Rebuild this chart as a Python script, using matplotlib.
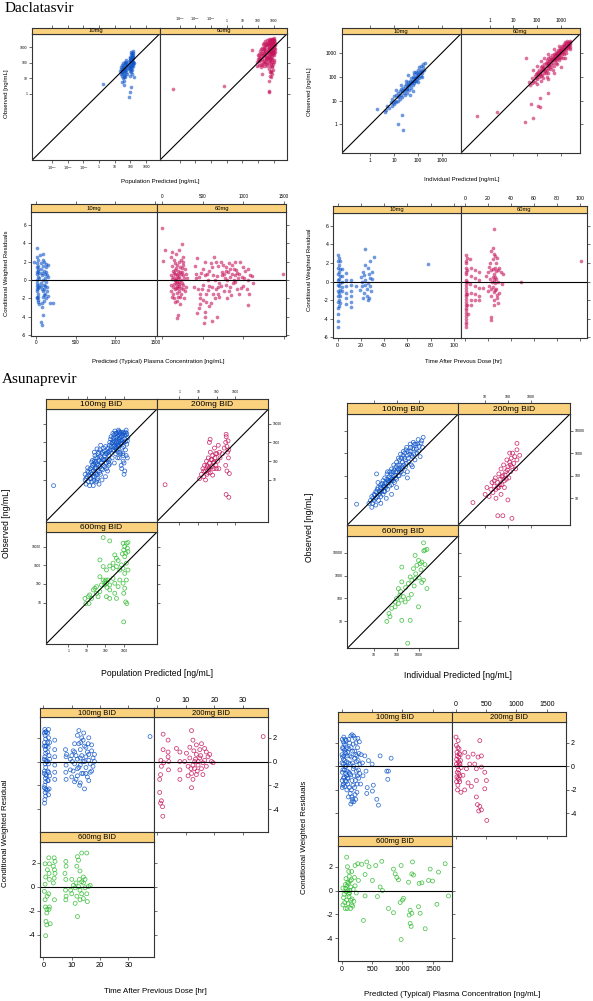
import numpy as np
import matplotlib.pyplot as plt
from matplotlib.ticker import NullLocator

plt.rcParams['font.family'] = ['Liberation Sans', 'DejaVu Sans']

W, H = 593, 1001
BLUE = '#0F55C8'
RED = '#C6145C'
GREEN = '#2FBB2F'
STRIP = '#FAD27E'

# ---------------- Daclatasvir data (x, y) ----------------
# observed vs population predicted [ng/mL]
dac_pop_10 = [(25, 40), (30, 25), (35, 60), (28, 15), (40, 30), (45, 80), (33, 10), (38, 18), (50, 45),
              (42, 120), (30, 6), (36, 4), (55, 25), (48, 12), (26, 50), (60, 70), (44, 35), (32, 90),
              (52, 150), (40, 7), (22, 30), (58, 20), (90, 100), (100, 200), (110, 60), (120, 300),
              (130, 150), (140, 80), (100, 40), (115, 500), (125, 35), (95, 250), (150, 120), (135, 400),
              (105, 90), (85, 60), (120, 20), (145, 200), (160, 100), (110, 130), (130, 50), (90, 30),
              (100, 15), (140, 600), (75, 45), (70, 110), (125, 250), (27, 22), (34, 45), (41, 55), (47, 28),
              (53, 65), (29, 35), (37, 12), (43, 95), (31, 70), (39, 38), (46, 17), (56, 40), (24, 18),
              (35, 28), (50, 100), (95, 150), (105, 350), (115, 170), (125, 130), (135, 90), (145, 300),
              (155, 60), (100, 70), (110, 40), (120, 450), (130, 220), (140, 110), (90, 140), (150, 250),
              (118, 75), (128, 180), (108, 25), (98, 55), (1.8, 4.3), (78, 0.6), (100, 1.4), (110, 2.7),
              (160, 12)]
dac_pop_60 = [(90, 60), (85, 110), (95, 180), (100, 300), (120, 75), (115, 130), (125, 220), (118, 380),
              (130, 600), (150, 85), (145, 150), (155, 260), (150, 450), (160, 800), (160, 50), (200, 105),
              (190, 180), (210, 320), (200, 560), (195, 950), (210, 1500), (195, 70), (250, 95), (260, 160),
              (245, 270), (255, 450), (250, 750), (260, 1200), (240, 2000), (240, 60), (300, 120), (310, 210),
              (290, 360), (305, 620), (300, 1000), (310, 1600), (290, 2600), (320, 80), (400, 100), (380, 185),
              (410, 310), (395, 520), (420, 820), (400, 1300), (390, 2000), (410, 3000), (390, 60), (500, 150),
              (520, 260), (480, 420), (510, 700), (500, 1100), (490, 1700), (520, 2500), (500, 3400), (530, 90),
              (500, 40), (600, 210), (620, 350), (580, 600), (610, 950), (600, 1500), (590, 2200), (610, 3100),
              (620, 125), (600, 60), (610, 25), (700, 300), (720, 520), (690, 850), (710, 1300), (700, 1900),
              (680, 2700), (720, 3500), (720, 150), (700, 80), (690, 30), (800, 260), (820, 410), (790, 700),
              (810, 1050), (800, 1650), (820, 2400), (780, 3200), (800, 105), (820, 50), (790, 20), (1000, 310),
              (980, 520), (1020, 920), (1000, 1400), (990, 2100), (1010, 3000), (1000, 3800), (1050, 160),
              (980, 85), (1200, 520), (1180, 820), (1220, 1300), (1200, 2000), (1150, 2900), (350, 250),
              (450, 600), (550, 900), (650, 450), (750, 1100), (850, 700), (900, 1900), (950, 500), (1100, 1100),
              (1100, 2400), (650, 2000), (550, 1300), (450, 1800), (350, 1300), (270, 500), (230, 800),
              (180, 350), (140, 200), (110, 160), (750, 600), (850, 1300), (950, 2600), (1100, 700), (900, 3300),
              (600, 2600), (800, 3000), (700, 450), (550, 250), (450, 200), (350, 150), (900, 350), (1100, 400),
              (650, 200), (850, 180), (1000, 120), (750, 60), (900, 35), (700, 25), (600, 15), (1150, 1700),
              (0.00037, 2.0), (0.68, 3.0), (40, 670), (550, 1.6), (500, 7), (480, 1.4), (650, 12), (180, 20)]

# observed vs individual predicted [ng/mL]
dac_ind_10 = [(4.5, 4.0), (5, 6), (6, 5), (7, 9), (8, 6), (8, 12), (9, 8), (10, 15), (10, 7), (11, 10),
              (12, 18), (12, 9), (14, 14), (15, 22), (15, 10), (17, 12), (18, 25), (20, 18), (20, 30), (22, 14),
              (24, 35), (25, 22), (28, 18), (28, 40), (30, 28), (32, 50), (35, 30), (35, 22), (38, 60), (40, 40),
              (42, 28), (45, 70), (48, 45), (50, 35), (52, 90), (55, 60), (60, 45), (60, 100), (65, 70), (70, 55),
              (70, 130), (75, 90), (80, 65), (80, 160), (90, 110), (95, 80), (100, 200), (100, 130), (110, 90),
              (110, 250), (120, 150), (130, 110), (130, 300), (140, 200), (150, 150), (160, 350), (170, 250),
              (180, 200), (190, 400), (60, 25), (45, 18), (100, 60), (150, 100), (30, 70), (20, 45), (12, 28),
              (40, 120), (65, 160), (16, 16), (26, 28), (33, 35), (44, 50), (58, 65), (68, 90), (85, 100),
              (105, 110), (125, 160), (145, 180), (22, 25), (38, 45), (52, 55), (75, 70), (90, 150),
              (1.8, 4.4), (22, 2.5), (15, 1.1), (24, 0.56), (4, 3.5)]
dac_ind_60 = [(45, 60), (50, 45), (60, 90), (60, 55), (70, 70), (80, 110), (80, 60), (90, 90), (100, 150),
              (100, 80), (110, 120), (120, 200), (120, 100), (130, 150), (140, 250), (140, 110), (150, 180),
              (160, 300), (160, 120), (180, 220), (190, 150), (200, 350), (200, 250), (220, 180), (230, 400),
              (250, 300), (250, 200), (270, 500), (280, 230), (300, 380), (300, 600), (330, 280), (350, 450),
              (350, 700), (380, 350), (400, 550), (400, 250), (420, 800), (450, 400), (480, 650), (500, 950),
              (500, 300), (550, 500), (600, 800), (600, 1100), (620, 400), (700, 600), (700, 1000), (750, 1400),
              (800, 800), (800, 500), (850, 1200), (900, 1700), (950, 1000), (1000, 700), (1000, 1400),
              (1100, 2000), (1100, 1100), (1200, 1500), (1300, 2400), (1300, 900), (1400, 1800), (1500, 2800),
              (1600, 1300), (1700, 2200), (1800, 3200), (2000, 2500), (2000, 1600), (2200, 2000), (2300, 3000),
              (2500, 2500), (180, 90), (300, 150), (450, 200), (700, 350), (1200, 600), (250, 100), (150, 70),
              (100, 50), (70, 200), (100, 300), (150, 450), (200, 600), (300, 900), (500, 1500), (800, 2000),
              (300, 80), (500, 150), (1000, 250), (1500, 600), (2500, 1500), (110, 160), (170, 240), (260, 380),
              (320, 450), (420, 550), (520, 700), (650, 900), (750, 1000), (900, 1200), (1050, 1500),
              (1250, 1900), (1450, 2100), (1700, 2600), (1900, 2800), (2100, 2300), (2400, 3200), (130, 130),
              (210, 200), (330, 350), (460, 500), (580, 600), (680, 750), (850, 900), (1150, 1300), (1350, 1400),
              (1650, 1700), (1900, 2000), (2200, 2600), (90, 130), (160, 200), (280, 320), (380, 500), (560, 800),
              (750, 800), (950, 1200), (1200, 1100), (1400, 1500), (1800, 1800), (240, 150), (360, 220),
              (600, 500), (900, 600), (1600, 1000), (2300, 1800), (500, 600), (750, 650), (1100, 900),
              (0.3, 2.2), (2.1, 3.2), (34, 620), (135, 12.6), (275, 21), (57, 7.5), (108, 6), (135, 5.4),
              (65, 1.8), (32, 1.3)]

# CWRES vs population predicted concentration [ng/mL]
dac_cw_pred_10 = [(15, 2.5), (20, 1.8), (25, 1.2), (18, 0.6), (22, 0), (30, -0.5), (16, -1), (28, -1.5),
                  (20, -2), (35, -2.6), (25, 0.3), (18, -0.3), (30, 1.5), (40, -0.8), (35, 0.8), (22, -1.2),
                  (28, 2.2), (15, -1.8), (38, 0.2), (32, -2.2), (24, 1.0), (19, -0.6), (60, 1.8), (70, 1.2),
                  (80, 0.5), (90, 0), (100, -0.5), (110, -1), (120, -1.5), (130, -2), (140, -0.8), (150, 0.3),
                  (160, 1.6), (75, -2.5), (85, -2.9), (95, 2.2), (105, 1.0), (115, 0.6), (125, -0.2), (135, 1.4),
                  (145, -1.2), (65, -0.3), (90, -1.8), (110, 2.0), (130, 0.9), (100, -2.3), (150, -1.7),
                  (80, -1.0), (120, 0.2), (20, 0.9), (26, -0.9), (17, 1.4), (33, -1.8), (23, -2.4), (70, -0.6),
                  (95, -1.2), (118, -0.7), (140, 0.5), (75, 0.8), (105, -1.6), (128, 1.7), (88, 1.5),
                  (21, 3.5), (62, -4.55), (75, -4.9), (96, -3.8), (179, -2.5), (221, -2.5), (-17, 1.95),
                  (87, 2.85), (50, 2.7)]
dac_cw_pred_60 = [(100, 2.5), (120, 1.5), (140, 0.8), (160, 0), (180, -0.6), (200, -1.2), (220, -1.8),
                  (240, -0.3), (260, 0.5), (280, 1.2), (300, 0.2), (110, -0.5), (130, -1.5), (150, 1.8),
                  (170, 2.8), (190, 1.0), (210, 0.3), (230, 2.2), (250, -1.0), (270, -2.0), (120, 0.1),
                  (160, -2.4), (200, 3.3), (230, -0.9), (140, -0.4), (180, 0.5), (210, -0.2), (260, 1.6),
                  (100, -1.2), (290, -0.8), (170, 1.3), (190, -1.8), (115, 3.0), (240, 3.9), (105, 0.5),
                  (125, -0.8), (135, 1.0), (145, -2.0), (155, 0.6), (165, -0.3), (175, -1.4), (185, 1.6),
                  (195, 0.2), (205, -0.7), (215, 1.4), (225, 0.0), (235, -1.5), (245, 0.9), (255, -0.5),
                  (265, 0.2), (275, -1.2), (285, 0.7), (130, 0.3), (150, -1.0), (170, 0.2), (190, -0.9),
                  (210, 1.9), (230, 0.6), (250, 2.0), (160, 1.1), (180, -0.2), (200, -0.4), (220, 0.9),
                  (140, 2.2), (120, -1.8), (180, -2.3), (215, -2.6), (260, 2.5), (150, 0.0), (190, 0.6),
                  (240, 1.3), (170, -0.9), (400, 1.5), (420, 0.2), (440, -1.0), (460, -2.0), (480, 0.8),
                  (500, -0.5), (520, 2.0), (540, -1.5), (560, 0.0), (580, 1.0), (600, -2.5), (620, 0.5),
                  (640, 2.5), (660, -1.0), (680, 1.5), (700, -0.3), (720, 2.0), (740, 0.5), (760, -1.2),
                  (780, 1.0), (800, 0.0), (820, 1.8), (840, -0.8), (860, 0.6), (880, 1.2), (900, -0.2),
                  (920, 0.8), (940, -1.5), (960, 2.0), (980, 0.3), (1000, -0.6), (1020, 1.0), (1050, 0.0),
                  (1080, 0.5), (1120, -0.3), (450, -3.0), (520, -3.5), (580, -2.8), (470, -1.5), (550, 0.7),
                  (610, -0.8), (650, 0.0), (700, -1.8), (750, 1.6), (850, -1.6), (900, 1.9), (430, 2.4),
                  (500, 1.2), (390, -0.8), (650, -2.0), (800, -2.0), (410, 0.6), (450, 0.3), (490, -1.0),
                  (530, 0.5), (570, -0.6), (610, 1.4), (630, -1.5), (670, 0.4), (690, -0.8), (730, 0.9),
                  (770, 0.2), (790, -0.5), (810, 0.9), (830, 0.3), (870, -0.3), (890, 0.5), (910, 1.1),
                  (930, 0.2), (950, 0.7), (970, -0.9), (990, 1.4), (1010, 0.2), (1040, -1.0), (1060, 1.2),
                  (1100, 0.4), (760, 0.7), (840, 1.2), (880, 0.0), (720, -0.6), (680, -1.5), (560, -1.1),
                  (500, -2.2), (470, -2.6), (540, -2.4), (600, 1.8), (660, 1.9), (860, 1.6), (920, -1.0),
                  (780, 1.4), (820, -1.2), (0, 5.67), (29, 3.3), (8, 2.1), (1487, 0.65), (1050, -2.75),
                  (1071, -1.5), (508, -4.7), (612, -4.5), (675, -4), (530, -4), (175, -4.1), (196, -3.8),
                  (425, -3.6)]

# CWRES vs time after previous dose [hr]
dac_cw_tad_10 = [(0.5, 2.8), (0.5, 2.2), (0.5, 1.5), (0.5, 0.8), (0.5, 0.2), (0.5, -0.4), (0.5, -1.0),
                 (0.5, -1.6), (0.5, -2.2), (0.5, -2.8), (0.5, -3.5), (0.5, -4.2), (0.5, -4.9), (1.2, 2.5),
                 (1.2, 1.8), (1.2, 1.0), (1.2, 0.3), (1.2, -0.5), (1.2, -1.2), (1.2, -2.0), (1.2, -2.6),
                 (2.2, 2.2), (2.2, 1.3), (2.2, 0.6), (2.2, -0.2), (2.2, -0.9), (2.2, -1.6), (2.2, -2.3),
                 (4, 1.3), (4, 0.6), (4, 0), (4, -0.6), (4, -1.0), (7.5, 0.9), (7.5, 0.2), (7.5, -0.5),
                 (7.5, -1.2), (7.5, -1.8), (7.5, -2.4), (11.5, 0.2), (11.5, -0.4), (11.5, -1.0), (11.5, -1.6),
                 (11.5, -2.2), (11.5, -2.7), (20, 0.5), (21, -0.5), (22, 1.0), (23, -1.2), (24, 0.2),
                 (25, -0.8), (26, 1.5), (27, -1.8), (28, 0.4), (22, -1.8), (24, 1.8), (26, -0.2), (27, 0.8),
                 (29, -1.0), (30, 0.3), (21, 0.0), (23, 0.7), (25, -1.5), (28, -0.5), (24, -0.4), (26, -2.0),
                 (30, 1.0), (19, -0.9), (24, 3.5), (31, 2.66), (77.6, 1.9), (16, -0.5), (27.5, 2.2)]
dac_cw_tad_60 = [(0.5, 2.8), (0.8, 2.2), (1.0, 1.5), (0.6, 0.8), (1.2, 0.2), (0.7, -0.4), (1.0, -1.0),
                 (0.6, -1.6), (1.3, -2.2), (0.8, -2.8), (0.5, -3.4), (1.0, -4.0), (0.7, -4.6), (1.1, -4.9),
                 (0.6, 2.0), (0.9, 1.0), (0.5, 0.0), (1.1, -0.7), (0.6, -1.3), (0.9, -1.9), (0.5, -2.5),
                 (1.2, -3.1), (0.8, -3.7), (0.5, -4.3), (2.0, 2.5), (2.2, 1.2), (1.8, 0.0), (2.1, -1.3),
                 (1.9, -2.5), (2.3, -3.5), (4.5, 2.4), (5, 1.5), (5.2, 0.6), (4.8, -0.3), (5.1, -1.2),
                 (4.9, -2.0), (5.3, -2.5), (8.5, 1.2), (8.8, 0.4), (8.3, -0.5), (8.7, -1.3), (8.5, -2.0),
                 (12, 1.0), (12.3, 0.2), (11.8, -0.7), (12.2, -1.5), (12, -2.0), (20, 1.0), (21, -0.5),
                 (22, 2.0), (23, -1.5), (24, 0.5), (25, 3.0), (25, -2.0), (26, 1.5), (27, -0.8), (28, 2.5),
                 (29, 0.0), (30, -1.2), (31, 1.0), (22, 0.3), (23, 1.2), (24, -0.6), (25, 0.8), (26, -0.2),
                 (27, 2.0), (28, -1.8), (24, 3.6), (26, 2.7), (20, -1.0), (30, 1.5), (21, 1.6), (25, -2.5),
                 (29, -2.3), (23, 3.3), (27, 0.3), (32, -0.3), (18, 0.6), (22.5, -0.8), (23.5, 0.0),
                 (24.5, 1.4), (25.5, -1.1), (26.5, 0.5), (27.5, -1.4), (28.5, 1.2), (25, 0.2), (26, -0.9),
                 (24, 2.4), (27, 1.1), (25.3, 5.7), (22.4, -3.8), (23, -4.1), (48.9, 0), (100.6, 2.2),
                 (16, -0.7), (33, 0.8)]

# ---------------- Asunaprevir data (x, y) ----------------
asv_pop_100 = [(8, 10), (9, 6), (8, 20), (10, 15), (12, 8), (12, 25), (11, 45), (15, 12), (15, 40), (14, 5),
               (18, 20), (18, 8), (18, 90), (20, 60), (22, 30), (22, 5), (25, 15), (25, 100), (25, 300),
               (28, 45), (30, 20), (30, 150), (32, 8), (35, 70), (35, 10), (35, 450), (40, 30), (40, 250),
               (45, 110), (45, 6), (50, 50), (50, 400), (55, 20), (55, 700), (60, 150), (60, 80), (65, 10),
               (70, 300), (70, 35), (80, 500), (80, 120), (90, 50), (90, 200), (100, 15), (100, 600), (110, 80),
               (120, 250), (130, 30), (140, 500), (150, 60), (160, 120), (170, 350), (9, 12), (11, 30), (13, 18),
               (16, 25), (17, 12), (19, 45), (21, 15), (23, 70), (24, 9), (26, 40), (27, 200), (29, 25),
               (31, 90), (33, 45), (36, 20), (38, 150), (42, 60), (44, 300), (48, 25), (52, 180), (58, 90),
               (62, 40), (66, 250), (72, 120), (76, 60), (85, 350), (95, 120), (105, 250), (115, 40),
               (125, 130), (135, 300), (145, 90), (155, 200), (165, 70), (20, 110), (28, 80), (38, 12),
               (150, 300), (170, 1000), (200, 600), (200, 2000), (230, 150), (250, 400), (250, 3000),
               (280, 1200), (300, 80), (300, 700), (320, 4000), (350, 250), (350, 1800), (380, 500), (400, 3000),
               (400, 1000), (450, 150), (450, 2200), (500, 600), (500, 4500), (550, 1500), (600, 300),
               (600, 3000), (650, 900), (700, 2000), (700, 60), (800, 500), (800, 1500), (900, 3500), (900, 200),
               (1000, 1000), (1100, 30), (1200, 400), (1300, 2500), (1400, 800), (1500, 150), (1600, 1800),
               (1000, 20), (750, 40), (550, 3800), (220, 900), (260, 1700), (330, 500), (430, 700), (480, 300),
               (650, 1200), (750, 2800), (1100, 1500), (1300, 4500), (1200, 3500), (160, 700), (180, 400),
               (190, 1500), (240, 1000), (270, 600), (290, 2500), (310, 1000), (340, 3000), (360, 600),
               (370, 1300), (420, 1800), (460, 800), (480, 3500), (520, 1100), (530, 2500), (580, 700),
               (620, 1800), (680, 3500), (720, 1300), (780, 900), (850, 2400), (950, 600), (1000, 3000),
               (1100, 2500), (1200, 1100), (1400, 3000), (1500, 1200), (300, 350), (420, 400), (650, 250),
               (850, 250), (1000, 80), (1300, 200), (900, 100), (550, 150), (0.16, 5)]
asv_pop_200 = [(15, 20), (18, 40), (20, 15), (22, 60), (25, 30), (28, 100), (30, 20), (32, 50), (35, 150),
               (38, 35), (40, 80), (45, 25), (45, 300), (50, 120), (55, 50), (60, 200), (60, 18), (65, 80),
               (70, 40), (75, 500), (80, 150), (90, 60), (100, 250), (110, 100), (120, 700), (130, 40),
               (140, 300), (150, 150), (300, 1000), (320, 2000), (350, 600), (380, 300), (400, 1200), (420, 150),
               (440, 400), (300, 60), (350, 30), (25, 10), (12, 12), (40, 1000), (44, 1450), (316, 2700),
               (200, 250), (250, 500), (30, 60), (40, 45), (55, 120), (70, 90), (85, 250), (95, 40), (20, 30),
               (35, 25), (0.17, 5.6), (316, 1.7), (440, 1.2), (470, 22)]
asv_pop_600 = [(75, 30000), (170, 20000), (890, 15100), (1090, 10000), (1330, 15100), (1630, 16400),
               (960, 6600), (1230, 4400), (1510, 8150), (810, 4060), (1630, 5400), (1090, 2900), (316, 3580),
               (390, 2370), (480, 1790), (257, 1290), (50, 1930), (75, 850), (113, 560), (170, 920), (257, 690),
               (390, 850), (590, 560), (720, 1050), (890, 690), (1330, 1290), (1630, 560), (1090, 370),
               (50, 245), (75, 163), (92, 133), (113, 109), (61, 89), (138, 163), (170, 89), (257, 200),
               (316, 109), (480, 72), (590, 163), (890, 109), (1090, 59), (1330, 163), (960, 32), (1230, 11),
               (1420, 9.1), (27, 59), (33, 72), (22, 48), (40, 21), (33, 32), (14, 26), (18, 17), (12, 21),
               (50, 39), (7.8, 17), (8.8, 9.1), (13, 9.1), (113, 21), (170, 17), (316, 32), (390, 17),
               (170, 48), (960, 0.95), (92, 89), (105, 163), (120, 66)]

asv_ind_100 = [(7, 8), (8, 12), (9, 6), (10, 15), (10, 8), (12, 20), (12, 10), (14, 12), (15, 30), (16, 8),
               (18, 20), (20, 40), (20, 12), (22, 25), (25, 60), (25, 15), (28, 30), (30, 80), (30, 20),
               (35, 45), (38, 120), (40, 25), (45, 60), (50, 150), (50, 35), (55, 80), (60, 200), (60, 40),
               (70, 100), (75, 300), (80, 50), (90, 150), (100, 400), (100, 70), (110, 200), (120, 600),
               (130, 100), (140, 300), (150, 900), (160, 150), (180, 400), (200, 1200), (200, 120), (220, 600),
               (250, 250), (280, 1800), (300, 800), (300, 150), (350, 400), (400, 2500), (400, 1200), (450, 300),
               (500, 700), (550, 3000), (600, 1500), (650, 500), (700, 2500), (800, 1000), (900, 4000),
               (1000, 2000), (1100, 700), (1300, 3500), (1500, 5000), (1400, 1800), (15, 50), (40, 150),
               (100, 30), (300, 80), (500, 250), (13, 120), (6, 6), (8, 4), (12, 5), (20, 6), (35, 10), (60, 15),
               (9, 10), (11, 14), (13, 18), (14, 25), (17, 15), (19, 30), (21, 20), (23, 45), (26, 35), (27, 20),
               (32, 50), (33, 30), (37, 70), (42, 50), (47, 90), (52, 60), (58, 120), (62, 70), (68, 150),
               (72, 60), (78, 180), (85, 100), (95, 250), (105, 150), (115, 300), (125, 180), (135, 500),
               (145, 200), (165, 600), (175, 250), (190, 800), (210, 300), (230, 1000), (240, 500), (260, 1400),
               (270, 350), (320, 1200), (330, 600), (380, 900), (420, 1800), (470, 800), (520, 1600), (580, 900),
               (620, 2500), (750, 1500), (850, 2500), (950, 1200), (1200, 2800), (120, 100), (180, 200),
               (60, 60), (90, 80), (30, 35), (40, 60), (1.7, 5.5)]
asv_ind_200 = [(10, 15), (12, 30), (15, 12), (18, 25), (20, 50), (22, 18), (25, 35), (28, 80), (30, 25),
               (35, 50), (40, 120), (40, 30), (45, 70), (50, 200), (55, 40), (60, 100), (65, 300), (70, 60),
               (80, 150), (90, 500), (100, 250), (110, 80), (120, 400), (130, 150), (140, 600), (150, 250),
               (160, 1000), (180, 350), (200, 700), (220, 200), (250, 500), (70, 30), (100, 8.5), (250, 2700),
               (30, 10), (50, 15), (120, 1000), (250, 1400), (330, 800), (25, 60), (35, 30), (45, 40), (55, 90),
               (75, 110), (85, 70), (95, 180), (130, 300), (2.9, 6.5), (36, 1.7), (60, 1.7), (150, 1.3)]
asv_ind_600 = [(1550, 27000), (1800, 13000), (2200, 14000), (1600, 12000), (660, 7600), (930, 4600),
               (1100, 3300), (1300, 3900), (790, 2800), (560, 2000), (400, 870), (330, 450), (170, 2350),
               (470, 630), (660, 740), (1550, 630), (2200, 270), (170, 530), (120, 270), (140, 140), (100, 100),
               (200, 120), (86, 70), (120, 60), (160, 85), (240, 70), (330, 100), (930, 43), (61, 37), (46, 22),
               (37, 9.9), (51, 16), (86, 43), (170, 11), (400, 11), (310, 1.1), (1000, 800), (1200, 1800),
               (250, 300), (150, 200), (700, 1200), (1300, 500), (1800, 3000), (600, 350), (450, 150)]

asv_cw_tad_100 = [(0.5, 2.7), (0.6, 2.2), (0.4, 1.6), (0.7, 1.0), (0.5, 0.4), (0.6, -0.2), (0.4, -0.8),
                  (0.7, -1.4), (0.5, -2.0), (0.6, -2.6), (0.5, -3.2), (0.4, -3.5), (1.0, 2.5), (1.0, 1.3),
                  (1.0, 0.0), (1.0, -1.2), (1.0, -2.4), (1.8, 2.7), (1.8, 2.0), (1.7, 1.2), (2.0, 0.5),
                  (1.8, -0.2), (1.9, -0.9), (1.7, -1.6), (2.0, -2.3), (1.8, -2.8), (4, 1.8), (4, 1.0), (4, 0.4),
                  (4, -0.3), (4, -0.9), (4, -1.5), (7.8, 1.0), (8, 0.4), (8, -0.3), (7.9, -0.9), (8, -1.5),
                  (0.8, 2.5), (0.8, 1.9), (0.8, 1.3), (0.8, 0.7), (0.8, 0.1), (0.8, -0.5), (0.8, -1.1),
                  (0.8, -1.7), (0.8, -2.3), (0.8, -2.9), (0.3, 2.4), (0.3, 1.3), (0.3, 0.2), (0.3, -1.0),
                  (0.3, -2.2), (1.5, 2.4), (1.5, 1.6), (1.5, 0.8), (1.5, 0.0), (1.5, -0.8), (1.5, -1.6),
                  (1.5, -2.4), (2.2, 1.6), (2.2, 0.2), (2.2, -1.2), (10, 0.5), (10.5, -0.8), (11, 1.5),
                  (11.5, -1.5), (12, 0.2), (12, 2.2), (12.5, -0.5), (13, 1.0), (13, -1.8), (13.5, 0.5),
                  (14, -1.0), (14, 1.8), (14.5, 0), (15, -0.5), (15, 1.2), (15.5, -1.3), (16, 0.6), (16.5, -0.2),
                  (17, 1.4), (17, -0.8), (17.5, 0.3), (18, 0.0), (11, -0.2), (12, -1.2), (13.5, 2.0),
                  (14.5, -2.3), (16, -1.6), (12.5, 2.6), (10, -1.3), (11, 0.8), (13, -0.3), (15, 0.4), (9.5, 0.2),
                  (16, 2.0), (10.5, 0.9), (11.5, 0.5), (12.5, 1.5), (13.5, -1.0), (14.5, 1.3), (15.5, 0.8),
                  (16.5, -0.9), (17.5, -0.4), (12, -0.6), (13, 0.3), (14, 0.0), (15, -1.0), (16, 0.1),
                  (11, -1.7), (12.8, -2.0), (13.2, 1.6), (14.2, 2.4), (15.8, 1.5), (17, 0.9), (18, 0.6),
                  (10.2, 0.0), (9.5, -0.7), (8.2, 0.6), (37.6, 2.1)]
asv_cw_tad_200 = [(2.0, 2.3), (1.2, 0.1), (1.4, -0.4), (1.1, -1.1), (0.8, -1.5), (0.8, -2.6), (1.4, -3.3),
                  (1.1, -3.5), (1.8, -3.8), (1.9, -4.6), (2, 1.0), (2.2, -0.1), (3.75, 1.8), (3.75, 0.8),
                  (4, 0), (3.9, -0.7), (3.75, 0.4), (6.7, 1.1), (7.9, 0.8), (7.9, 0), (7.9, -0.7), (7.9, -1.5),
                  (12, 2.6), (12.5, 1.8), (13.7, 1.4), (14.9, 1.0), (10.2, 0.7), (11.4, 0.3), (13.1, 0),
                  (14.3, -0.3), (15.5, -0.6), (16.6, 0.1), (17.8, 0.4), (19, 0), (12, -1.0), (12.5, -1.5),
                  (12, -2.2), (13.7, -1.1), (16, -1.1), (17.2, 0.8), (15.5, 1.5), (10.8, -0.4), (9.6, 0),
                  (14.9, 0.3), (13.7, 0.6), (13.1, -0.6), (11.4, 1.2), (16, -0.1), (17.2, -0.4), (18.4, 0.6),
                  (10.8, -1.2), (16.6, 1.1), (12.5, -0.3), (14.3, 0), (19.6, -0.1), (12.8, 0.9), (14, -0.8),
                  (15.2, 0.5), (11.8, -0.6), (13.4, 0.2), (37.2, 2.1)]
asv_cw_tad_600 = [(0.6, 1.9), (0.8, 0.8), (0.6, 0.2), (0.35, -0.4), (0.6, -1.1), (0.7, -1.7), (1.2, -2.2),
                  (0.9, -2.9), (1.2, -3.2), (0.8, -4.1), (1.2, -1.9), (1.4, 1.4), (1.3, -0.8), (1.9, 2.4),
                  (2.1, 1.9), (2.0, 1.1), (2.1, 0.6), (1.9, -0.6), (2.1, -1.7), (2.0, -1.9), (2.4, -3.1),
                  (3.8, 2.4), (4.1, 2.1), (3.5, 1.7), (3.9, 1.4), (4.1, 1.1), (3.8, 0.7), (3.5, 0.3),
                  (3.9, -1.1), (7.9, 2.1), (8, 1.7), (7.6, 1.1), (7.9, 0.6), (7.8, -0.3), (8, -0.8),
                  (7.9, -1.1), (12, 2.5), (12.4, 2.2), (11.8, 1.7), (12.9, 1.3), (14.1, 0.8), (15.3, 2.8),
                  (13.5, 2.8), (10, 0.6), (10.6, 0.1), (11.2, -0.1), (12.4, 0), (12.9, -0.3), (13.5, -0.6),
                  (14.1, 0.3), (14.7, -0.1), (15.3, -0.6), (15.9, 0), (16.5, 0.1), (11.8, -0.8), (12.9, -1.1),
                  (14.1, -1.0), (15.5, -1.25), (11.2, -1.4), (12, -2.5), (10, -0.6), (12.7, 0.6), (13.5, 0.4),
                  (11.5, 0.3), (9.6, -0.3), (14.7, 0.6)]

asv_cw_pred_100 = [(10, 2.3), (20, 1.5), (15, 0.8), (25, 0.2), (10, -0.5), (30, -1.0), (20, -1.6), (40, 1.9),
                   (50, 0.5), (45, -0.3), (60, -1.2), (35, 2.5), (55, 1.2), (70, 0.0), (80, -0.8), (65, 1.8),
                   (90, 0.9), (100, -1.5), (85, -2.0), (75, 2.2), (110, 0.3), (120, 1.5), (130, -0.6),
                   (140, -2.3), (150, 2.6), (160, 0.8), (170, -1.2), (180, -2.8), (190, 1.9), (200, 0.0),
                   (210, -1.8), (220, 2.4), (230, 1.0), (240, -0.4), (250, -2.2), (260, 1.6), (270, 0.5),
                   (280, -1.0), (290, 2.1), (300, 0.2), (310, -1.5), (150, -3.2), (170, 2.7), (130, 2.0),
                   (200, -3.0), (160, -2.0), (180, 1.3), (120, -0.5), (110, -2.6), (230, -2.8), (260, -0.8),
                   (320, 1.0), (340, 0.3), (350, -0.8), (380, 0.9), (400, -0.4), (420, -1.8), (440, 0.5),
                   (500, 0.2), (520, -1.6), (5, 1.0), (8, -1.2), (30, 0.6), (5, 0.3), (10, -1.8), (15, 1.6),
                   (20, -0.3), (25, 2.1), (30, -1.5), (35, 0.9), (40, -0.9), (45, 1.4), (50, -1.7), (55, 0.0),
                   (60, 2.3), (65, -0.6), (70, 1.1), (75, -1.3), (80, 0.4), (85, 1.6), (90, -0.4), (95, -1.0),
                   (100, 1.2), (105, -1.0), (115, 2.3), (125, -1.8), (135, 0.9), (145, -0.7), (155, 1.6),
                   (165, -2.6), (175, 0.3), (185, -1.6), (195, 2.6), (205, -0.8), (215, 1.3), (225, -1.2),
                   (235, 2.0), (245, 0.4), (255, -1.5), (265, 2.4), (275, -0.3), (285, 1.1), (295, -0.6),
                   (140, 0.2), (190, -0.2), (210, 0.7), (250, 0.9), (170, -3.0), (220, -2.4), (632, 0.9),
                   (742, -0.4), (769, -0.4), (758, -1.1), (813, 0.7), (577, -2.8), (604, -3.3), (505, -2.1),
                   (412, -2.3)]
asv_cw_pred_200 = [(5, 2.5), (10, 1.8), (20, 1.2), (15, 0.6), (30, 0.0), (25, -0.5), (40, -1.0), (35, -1.6),
                   (50, 0.8), (60, 0.3), (45, -0.3), (70, -0.8), (55, 1.5), (80, 0.5), (65, -1.3), (90, -0.1),
                   (30, -2.0), (40, 2.2), (75, 1.0), (85, -2.2), (20, -0.9), (50, -0.6), (60, 1.1), (10, 0.2),
                   (35, 1.6), (25, 0.9), (45, 0.4), (15, -1.3), (55, -1.1), (70, 0.2), (148, 1.2), (203, 0.8),
                   (286, 1.05), (368, 0.8), (423, 0.9), (396, 2.2), (313, 0.2), (340, -0.2), (423, -0.05),
                   (478, -0.5), (505, -1.2), (478, -1.9), (340, -1.2), (258, -1.7), (203, -1.4), (340, -2.6),
                   (357, -3.25), (396, -3.4), (423, -3.7), (379, -3.8), (511, -4.6), (148, -2.0), (120, -0.75),
                   (176, -0.2), (231, 0.2)]
asv_cw_pred_600 = [(82, 2.8), (165, 1.6), (220, 2.1), (264, 2.25), (330, 2.2), (412, 2.4), (450, 2.0),
                   (560, 2.1), (660, 2.45), (852, 1.8), (880, 1.4), (978, 2.1), (1165, 2.4), (1456, 1.8),
                   (1593, 1.55), (1703, 2.25), (209, 1.1), (275, 0.85), (385, 1.35), (505, 0.85), (632, 0.3),
                   (670, 0), (907, 1.1), (934, 0.9), (1100, 0.7), (1154, 1.4), (1181, 1.3), (1275, 0.6),
                   (1319, 0.65), (1429, 0.85), (1495, 0.8), (1016, -0.65), (1000, -0.8), (588, -0.5),
                   (769, -1.5), (852, -1.85), (962, -1.0), (1126, -1.65), (1154, -1.9), (1110, -2.05),
                   (1126, -2.75), (1143, -3.0), (1291, -1.9), (1264, -1.35), (1374, -3.2), (978, -4.1),
                   (1566, -1.15), (1758, -0.45), (385, -0.45), (357, -2.5), (20, 0.2), (40, -0.3), (60, 0.5),
                   (80, -0.8), (100, 0.0), (120, -0.5), (140, 0.8), (160, -1.2), (50, -1.0), (70, 1.0),
                   (90, -1.5), (110, 0.6), (130, -0.2), (150, 0.3), (170, -0.7), (190, 0.1), (30, -0.6),
                   (65, 0.2), (85, 0.4), (105, -1.1), (125, 1.2), (145, -1.5), (200, -0.9), (220, 0.4),
                   (240, -0.2), (95, 2.0), (115, 1.6), (60, -1.5), (180, -1.3), (110, -0.3), (75, -0.1),
                   (135, 0.0), (160, 0.9), (100, 0.7), (150, -0.8), (20, -1.2)]

# ---------------- axes ticks ----------------
dec_small = [1e-3, 1e-2, 1e-1, 1, 10, 100, 1000]
dec_small_lab = ['$10^{-3}$', '$10^{-2}$', '$10^{-1}$', '1', '10', '100', '1000']
cw_ticks = [-6, -4, -2, 0, 2, 4, 6]
cw_labs = ['-6', '-4', '-2', '0', '2', '4', '6']


fig = plt.figure(figsize=(W / 100, H / 100), dpi=100)


def px_box(x0, y0, x1, y1):
    return [x0 / W, 1 - y1 / H, (x1 - x0) / W, (y1 - y0) / H]


def style_spines(ax):
    for sp in ax.spines.values():
        sp.set_linewidth(0.8)
        sp.set_color('#333333')


TICK = dict(direction='out', length=2.2, width=0.5, pad=1.2, color='#333333')


def panel(rect, xlim, ylim, xt, xl, yt, yl, sides, labs, fs, strip_h, top='', log=False):
    # top: '' no top axis, 't' ticks only, 'T' ticks + labels; drawn above the strip like lattice
    ax = fig.add_axes(px_box(*rect))
    if log:
        ax.set_xscale('log')
        ax.set_yscale('log')
    ax.set_xlim(xlim)
    ax.set_ylim(ylim)
    ax.set_xticks(xt)
    ax.set_xticklabels(xl)
    ax.set_yticks(yt)
    ax.set_yticklabels(yl)
    ax.xaxis.set_minor_locator(NullLocator())
    ax.yaxis.set_minor_locator(NullLocator())
    ax.tick_params(labelsize=fs, bottom='b' in sides, top=False, left='l' in sides, right='r' in sides,
                   labelbottom='b' in labs, labeltop=False,
                   labelleft='l' in labs, labelright='r' in labs, **TICK)
    style_spines(ax)
    if top:
        sec = ax.secondary_xaxis(1 + strip_h / (rect[3] - rect[1]))
        sec.set_xticks(xt)
        sec.set_xticklabels(xl if top == 'T' else [''] * len(xt))
        sec.xaxis.set_minor_locator(NullLocator())
        sec.tick_params(labelsize=fs, **TICK)
        for sp in sec.spines.values():
            sp.set_visible(False)
    return ax


def strip(rect, text, fs):
    ax = fig.add_axes(px_box(*rect))
    ax.set_facecolor(STRIP)
    ax.set_xticks([])
    ax.set_yticks([])
    style_spines(ax)
    ax.text(0.5, 0.45, text, ha='center', va='center', fontsize=fs, transform=ax.transAxes)


def dots(ax, pts, color, hollow=False):
    a = np.array(pts, dtype=float)
    if hollow:
        ax.scatter(a[:, 0], a[:, 1], s=8, facecolors='none', edgecolors=color, linewidths=0.55, alpha=0.85)
    else:
        ax.scatter(a[:, 0], a[:, 1], s=7, color=color, alpha=0.6, linewidths=0)


def ftext(x, y, s, fs, rot=0, **kw):
    fig.text(x / W, 1 - y / H, s, fontsize=fs, rotation=rot, ha='center', va='center', **kw)


def dac_row(xs, ys, xlim, ylim, xt, xl, yt, yl, data, labels, fs, kind):
    # xs = (left, mid, right); ys = (strip top, panel top, panel bottom)
    sh = ys[1] - ys[0]
    for (x0, x1), lab, pts, col, side, lb, top in [((xs[0], xs[1]), labels[0], data[0], BLUE, 'lb', 'lb', 't'),
                                                   ((xs[1], xs[2]), labels[1], data[1], RED, 'br', '', 'T')]:
        ax = panel((x0, ys[1], x1, ys[2]), xlim, ylim, xt, xl, yt, yl, side, lb, fs, sh, top,
                   log=(kind == 'obs'))
        if kind == 'obs':
            ax.axline((1, 1), (10, 10), color='k', lw=0.8)
        else:
            ax.axhline(0, color='k', lw=0.8)
        dots(ax, pts, col)
        strip((x0, ys[0], x1, ys[1]), lab, 4.2)


# ---------------- Daclatasvir ----------------
fig.text(5 / W, 1 - 2 / H, 'Daclatasvir', fontsize=11, family='Liberation Serif', va='top', ha='left')
dac_doses = ['10mg', '60mg']

lim = (10 ** -4.25, 10 ** 3.88)
dac_row((32.3, 160, 287.3), (27.7, 33.5, 160), lim, lim, dec_small, dec_small_lab, [1, 10, 100, 1000],
        ['1', '10', '100', '1000'], [dac_pop_10, dac_pop_60], dac_doses, 2.4, 'obs')
ftext(7, 94, 'Observed [ng/mL]', 4.4, rot=90)
ftext(160, 181.5, 'Population Predicted [ng/mL]', 4.4)

lim = (10 ** -1.21, 10 ** 3.8)
dac_row((341.7, 460.7, 580), (27.7, 34, 153.3), lim, lim, [1, 10, 100, 1000], ['1', '10', '100', '1000'],
        [1, 10, 100, 1000], ['1', '10', '100', '1000'], [dac_ind_10, dac_ind_60], dac_doses, 3.5, 'obs')
ftext(310, 92, 'Observed [ng/mL]', 4.4, rot=90)
ftext(462, 180, 'Individual Predicted [ng/mL]', 4.4)

dac_row((30.7, 157.3, 286), (204, 212.3, 335.7), (-63, 1525), (-6.05, 7.35), [0, 500, 1000, 1500],
        ['0', '500', '1000', '1500'], cw_ticks, cw_labs, [dac_cw_pred_10, dac_cw_pred_60], dac_doses, 3.3, 'res')
ftext(7, 273, 'Conditional Weighted Residuals', 4.3, rot=90)
ftext(158, 362, 'Predicted (Typical) Plasma Concentration [ng/mL]', 4.3)

dac_row((333.3, 460.7, 587), (206, 212.7, 338.3), (-3.7, 106), (-6.1, 7.4), [0, 20, 40, 60, 80, 100],
        ['0', '20', '40', '60', '80', '100'], cw_ticks, cw_labs, [dac_cw_tad_10, dac_cw_tad_60], dac_doses,
        3.8, 'res')
ftext(310, 270, 'Conditional Weighted Residual', 4.3, rot=90)
ftext(463, 361, 'Time After Prevous Dose [hr]', 4.3)

# ---------------- Asunaprevir ----------------
fig.text(2 / W, 1 - 373 / H, 'Asunaprevir', fontsize=11, family='Liberation Serif', va='top', ha='left')

doses = ['100mg BID', '200mg BID', '600mg BID']
cols = [BLUE, RED, GREEN]


def three_panels(xs, ys, xlim, ylim, xt, xl, yt, yl, data, fs_tick, fs_strip, kind):
    # xs = (left, mid, right); ys = (strip top, panel1 top, panel1 bottom, panel2 top, panel2 bottom)
    sh = ys[1] - ys[0]
    boxes = [((xs[0], ys[1], xs[1], ys[2]), (xs[0], ys[0], xs[1], ys[1]), 'l', '', 't'),
             ((xs[1], ys[1], xs[2], ys[2]), (xs[1], ys[0], xs[2], ys[1]), 'br', 'r', 'T'),
             ((xs[0], ys[3], xs[1], ys[4]), (xs[0], ys[2], xs[1], ys[3]), 'lbr', 'lb', '')]
    for (rect, srect, side, lb, top), pts, col, lab in zip(boxes, data, cols, doses):
        ax = panel(rect, xlim, ylim, xt, xl, yt, yl, side, lb, fs_tick, sh, top, log=(kind == 'obs'))
        if kind == 'obs':
            ax.axline((1, 1), (10, 10), color='k', lw=0.8)
        else:
            ax.axhline(0, color='k', lw=0.8)
        dots(ax, pts, col, hollow=True)
        strip(srect, lab, fs_strip)


lim = (10 ** -1.22, 10 ** 4.76)
three_panels((45.7, 156.7, 268.3), (399, 409.3, 521.7, 532.3, 644.3), lim, lim,
             [1, 10, 100, 1000], ['1', '10', '100', '1000'], [10, 100, 1000, 10000],
             ['10', '100', '1000', '10000'], [asv_pop_100, asv_pop_200, asv_pop_600], 2.3, 6, 'obs')
ftext(7, 523, 'Observed [ng/mL]', 6.2, rot=90)
ftext(157, 673, 'Population Predicted [ng/mL]', 6.2)

lim = (10 ** -0.18, 10 ** 4.73)
three_panels((347.3, 458.3, 570), (403.3, 414, 525, 536, 648.3), lim, lim,
             [10, 100, 1000], ['10', '100', '1000'], [10, 100, 1000, 10000],
             ['10', '100', '1000', '10000'], [asv_ind_100, asv_ind_200, asv_ind_600], 2.5, 6, 'obs')
ftext(310, 527, 'Observed [ng/mL]', 6.2, rot=90)
ftext(458, 676, 'Individual Predicted [ng/mL]', 6.2)

three_panels((40, 154, 268.3), (708.3, 717.3, 831.7, 842, 957.3), (-1.2, 39), (-5.9, 3.72),
             [0, 10, 20, 30], ['0', '10', '20', '30'], [-4, -2, 0, 2], ['-4', '-2', '0', '2'],
             [asv_cw_tad_100, asv_cw_tad_200, asv_cw_tad_600], 5.3, 5.5, 'res')
ftext(6, 833, 'Conditional Weighted Residual', 5.7, rot=90)
ftext(155, 991.5, 'Time After Previous Dose [hr]', 5.7)

three_panels((337.7, 451.7, 565.7), (712.3, 722.3, 835.7, 845.7, 961), (-66, 1810), (-5.9, 3.76),
             [0, 500, 1000, 1500], ['0', '500', '1000', '1500'], [-4, -2, 0, 2], ['-4', '-2', '0', '2'],
             [asv_cw_pred_100, asv_cw_pred_200, asv_cw_pred_600], 5.0, 5.5, 'res')
ftext(305, 837, 'Conditional Weighted Residuals', 5.8, rot=90)
ftext(452, 994, 'Predicted (Typical) Plasma Concentration [ng/mL]', 5.8)

fig.savefig('out.png', dpi=100)
